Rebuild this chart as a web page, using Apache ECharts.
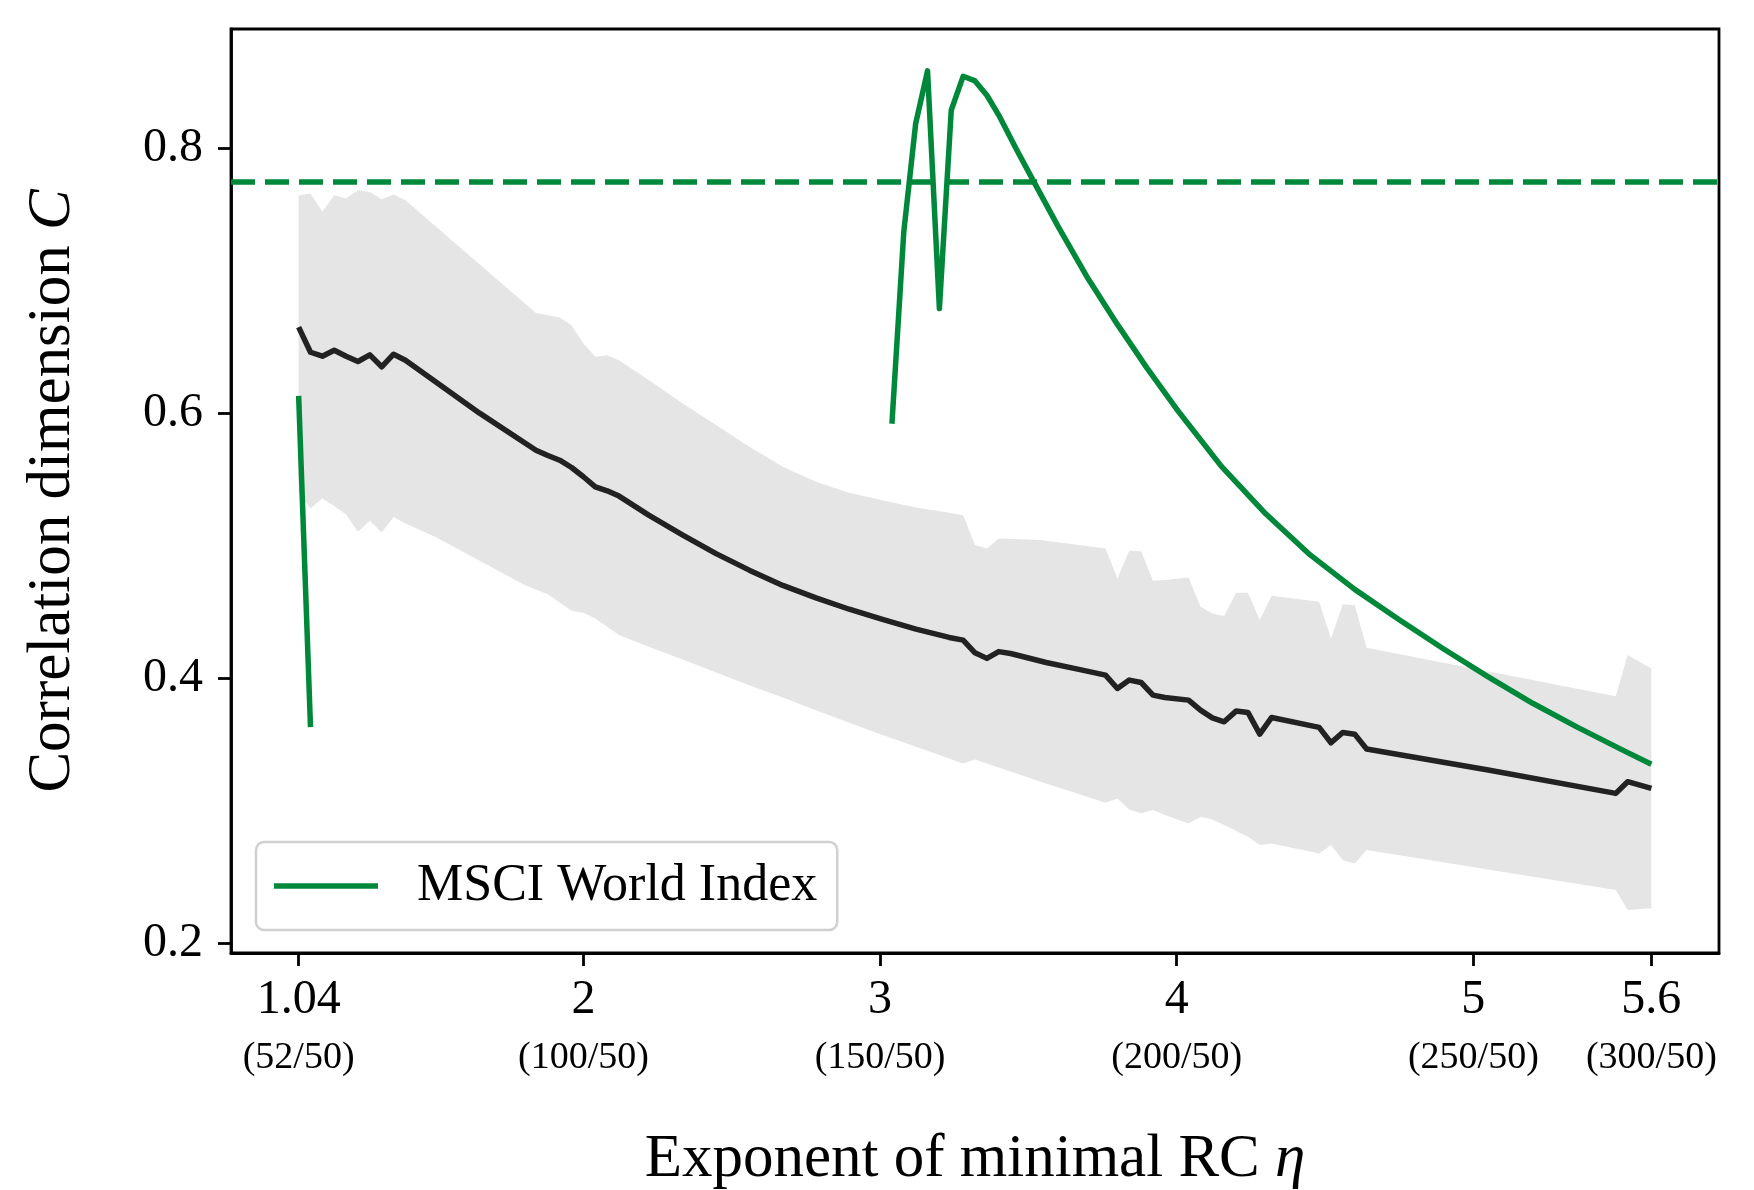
<!DOCTYPE html>
<html>
<head>
<meta charset="utf-8">
<script src="https://cdn.jsdelivr.net/npm/echarts@6/dist/echarts.min.js"></script>
<style>html,body{margin:0;padding:0;background:#fff}#c{width:1754px;height:1190px}</style>
</head>
<body>
<div id="c"></div>
<script>
// ---- data ----
const xTickVals = [1.04, 2, 3, 4, 5, 5.6];
const xTickTop = ['1.04', '2', '3', '4', '5', '5.6'];
const xTickBottom = ['(52/50)', '(100/50)', '(150/50)', '(200/50)', '(250/50)', '(300/50)'];
const yTickVals = [0.2, 0.4, 0.6, 0.8];

const meanLine = [[1.04,0.665],[1.08,0.646],[1.12,0.643],[1.16,0.6475],[1.20,0.643],[1.24,0.639],[1.28,0.644],[1.32,0.635],[1.36,0.6445],[1.40,0.640],[1.65,0.600],[1.84,0.572],[1.88,0.568],[1.92,0.5645],[1.96,0.559],[2.00,0.552],[2.04,0.5444],[2.08,0.5414],[2.12,0.5374],[2.22,0.523],[2.335,0.508],[2.447,0.494],[2.559,0.4815],[2.672,0.470],[2.784,0.4606],[2.896,0.452],[3.008,0.4443],[3.121,0.437],[3.233,0.4307],[3.28,0.4287],[3.32,0.4191],[3.36,0.4149],[3.40,0.420],[3.44,0.4186],[3.56,0.4118],[3.67,0.4066],[3.76,0.4023],[3.80,0.3922],[3.84,0.3985],[3.88,0.3967],[3.92,0.3872],[3.96,0.3854],[4.04,0.3834],[4.08,0.3758],[4.12,0.370],[4.16,0.367],[4.20,0.3751],[4.24,0.3741],[4.28,0.3577],[4.32,0.3703],[4.48,0.3628],[4.52,0.3512],[4.56,0.359],[4.60,0.3577],[4.64,0.3465],[5.05,0.3306],[5.48,0.313],[5.52,0.3218],[5.60,0.3167]];

const bandUpper = [[1.04,0.7645],[1.08,0.7658],[1.12,0.752],[1.16,0.7645],[1.20,0.762],[1.24,0.7683],[1.28,0.767],[1.32,0.7615],[1.36,0.765],[1.40,0.7608],[1.84,0.6757],[1.88,0.674],[1.92,0.6722],[1.96,0.6664],[2.00,0.6526],[2.04,0.6425],[2.08,0.6438],[2.12,0.640],[2.22,0.625],[2.335,0.6073],[2.447,0.591],[2.559,0.5746],[2.672,0.5595],[2.784,0.5482],[2.896,0.540],[3.008,0.5343],[3.121,0.5288],[3.233,0.5248],[3.28,0.523],[3.32,0.5004],[3.36,0.4978],[3.40,0.5054],[3.54,0.5042],[3.67,0.5004],[3.76,0.4979],[3.80,0.4752],[3.84,0.4961],[3.88,0.4958],[3.92,0.4735],[3.96,0.474],[4.04,0.476],[4.08,0.4538],[4.12,0.4488],[4.16,0.4468],[4.20,0.4644],[4.24,0.4644],[4.28,0.4438],[4.32,0.4621],[4.48,0.4576],[4.52,0.430],[4.56,0.4558],[4.60,0.4551],[4.64,0.4229],[5.48,0.3864],[5.52,0.4174],[5.60,0.4073]];

const bandLower = [[1.04,0.540],[1.08,0.528],[1.12,0.5356],[1.16,0.530],[1.20,0.5235],[1.24,0.5105],[1.28,0.5187],[1.32,0.510],[1.36,0.5217],[1.40,0.5167],[1.50,0.5067],[1.80,0.4705],[1.88,0.4634],[1.96,0.4508],[2.00,0.4493],[2.04,0.445],[2.12,0.4325],[2.22,0.4237],[2.335,0.4141],[2.447,0.4043],[2.559,0.3947],[2.672,0.3854],[2.784,0.3758],[2.896,0.3663],[3.008,0.357],[3.121,0.3482],[3.233,0.3394],[3.28,0.3356],[3.32,0.3386],[3.36,0.3356],[3.40,0.3326],[3.559,0.3205],[3.67,0.3125],[3.76,0.3059],[3.80,0.3092],[3.84,0.3009],[3.88,0.2979],[3.92,0.3004],[3.96,0.2966],[4.04,0.2903],[4.08,0.2953],[4.12,0.2933],[4.16,0.2891],[4.24,0.2802],[4.28,0.274],[4.32,0.2752],[4.48,0.2677],[4.52,0.274],[4.56,0.2626],[4.60,0.2601],[4.64,0.2702],[5.48,0.240],[5.52,0.2249],[5.60,0.2262]];

const msciLine = [[1.04,0.613],[1.08,0.363],[1.12,null],[3.04,0.592],[3.08,0.737],[3.12,0.8186],[3.16,0.8584],[3.20,0.679],[3.24,0.8287],[3.28,0.8543],[3.32,0.8508],[3.36,0.840],[3.40,0.825],[3.46,0.799],[3.52,0.774],[3.60,0.741],[3.70,0.702],[3.80,0.667],[3.90,0.634],[4.00,0.603],[4.15,0.560],[4.30,0.524],[4.45,0.493],[4.60,0.467],[4.75,0.444],[4.90,0.422],[5.05,0.401],[5.20,0.381],[5.35,0.363],[5.50,0.346],[5.60,0.335]];

const msciLevel = 0.7745;
const seriesName = 'MSCI World Index';

// ---- chart ----
const FONT = 'Liberation Serif';
const GREEN = '#00883a';
const chart = echarts.init(document.getElementById('c'), null, {renderer: 'canvas'});

function xLabel(v) {
  let i = xTickVals.findIndex(t => Math.abs(t - v) < 1e-6);
  if (i < 0) return '';
  return '{a|' + xTickTop[i] + '}\n{b|' + xTickBottom[i] + '}';
}

chart.setOption({
  backgroundColor: '#ffffff',
  animation: false,
  textStyle: {fontFamily: FONT, color: '#000'},
  grid: {left: 231, top: 29, right: 35, bottom: 237, containLabel: false, outerBoundsMode: 'none', show: true, borderColor: '#000', borderWidth: 2.8, backgroundColor: 'transparent'},
  legend: {
    data: [seriesName], left: 256, top: 842, orient: 'horizontal',
    padding: [18, 20, 18, 18], backgroundColor: '#ffffff',
    borderColor: '#d0d0d0', borderWidth: 2.5, borderRadius: 8,
    itemWidth: 104, itemHeight: 5.5, icon: 'rect',
    textStyle: {fontFamily: FONT, fontSize: 52, color: '#000', padding: [0, 0, 0, 34]}
  },
  xAxis: {
    type: 'value', min: 0.812, max: 5.828,
    splitLine: {show: false},
    axisLine: {show: true, lineStyle: {color: '#000', width: 2.8}},
    axisTick: {show: true, customValues: xTickVals, length: 13, lineStyle: {color: '#000', width: 2.8}},
    axisLabel: {
      customValues: xTickVals, margin: 18, color: '#000', formatter: xLabel,
      rich: {a: {fontFamily: FONT, fontSize: 48, lineHeight: 58, color: '#000'}, b: {fontFamily: FONT, fontSize: 38, lineHeight: 58, color: '#000'}}
    },
    name: '{n|Exponent of minimal RC }{i|η}', nameLocation: 'middle', nameGap: 176,
    nameTextStyle: {rich: {n: {fontFamily: FONT, fontSize: 61, color: '#000'}, i: {fontFamily: FONT, fontSize: 61, fontStyle: 'italic', color: '#000'}}}
  },
  yAxis: {
    type: 'value', min: 0.1925, max: 0.89,
    splitLine: {show: false},
    axisLine: {show: true, lineStyle: {color: '#000', width: 2.8}},
    axisTick: {show: true, customValues: yTickVals, length: 13, lineStyle: {color: '#000', width: 2.8}},
    axisLabel: {customValues: yTickVals, margin: 28, color: '#000', fontFamily: FONT, fontSize: 48, formatter: v => v.toFixed(1)},
    name: '{n|Correlation dimension }{i|C}', nameLocation: 'middle', nameGap: 148,
    nameTextStyle: {rich: {n: {fontFamily: FONT, fontSize: 61, color: '#000'}, i: {fontFamily: FONT, fontSize: 61, fontStyle: 'italic', color: '#000'}}}
  },
  series: [
    {
      type: 'custom', name: 'band', silent: true, z: 1,
      coordinateSystem: 'cartesian2d',
      data: [bandUpper[0]],
      renderItem: function (params, api) {
        const pts = bandUpper.map(p => api.coord(p)).concat(bandLower.slice().reverse().map(p => api.coord(p)));
        return {type: 'polygon', shape: {points: pts}, style: {fill: '#e5e5e5', stroke: null}};
      }
    },
    {
      type: 'line', name: 'mean', data: meanLine, z: 3,
      showSymbol: false, symbol: 'none',
      lineStyle: {color: '#222222', width: 5.5, join: 'round'}, itemStyle: {color: '#222222'}
    },
    {
      type: 'line', name: seriesName, data: msciLine, z: 4,
      showSymbol: false, symbol: 'none', connectNulls: false,
      lineStyle: {color: GREEN, width: 5.5, join: 'round'}, itemStyle: {color: GREEN},
      markLine: {
        silent: true, symbol: ['none', 'none'], label: {show: false}, precision: 4,
        lineStyle: {color: GREEN, width: 5.5, type: [24, 10]},
        data: [{yAxis: msciLevel}]
      }
    }
  ]
});
</script>
</body>
</html>
